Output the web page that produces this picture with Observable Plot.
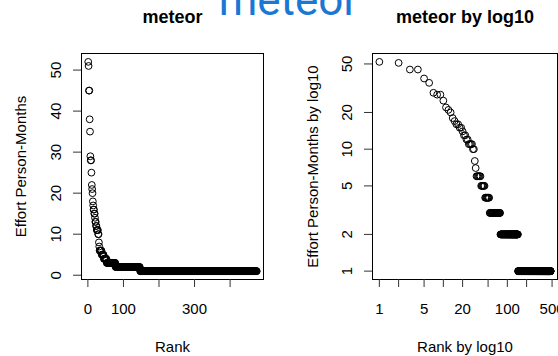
<!DOCTYPE html>
<html><head><meta charset="utf-8">
<script src="https://cdn.jsdelivr.net/npm/d3@7"></script>
<script src="https://cdn.jsdelivr.net/npm/@observablehq/plot@0.6"></script>
<style>
html,body{margin:0;padding:0;background:#fff;}
body{width:558px;height:356px;overflow:hidden;position:relative;font-family:"Liberation Sans",Arial,sans-serif;}
#left,#right{position:absolute;top:0;}
#left{left:0;} #right{left:279px;}
#banner{position:absolute;left:0;top:0;overflow:visible;}
</style></head><body>
<div id="left"></div><div id="right"></div>
<svg id="banner" width="558" height="40"><text x="288.5" y="14.5" text-anchor="middle" font-size="44" fill="#1a78d4" font-family="Roboto, 'Liberation Sans', sans-serif">meteor</text></svg>
<script>
// ---- data ----
const repoName = "meteor";
// top-ranked efforts (person-months), one per rank
const headEfforts = [52,51,45,45,38,35,29,28,28,25,22,21,20,18,17,16,16,15,15,14,13,13,12,12,11,11,11,11,10,10,8,7];
// repeated small efforts: value and how many ranks carry it
const tailEfforts = [6,5,4,3,2,1];
const tailCounts  = [6,6,8,25,69,329];
// axis ticks and labels
const linXTicks = [0,100,200,300,400];
const linXLabels = ["0","100","","300",""];
const linYTicks = [0,10,20,30,40,50];
const logXTicks = [1,2,5,10,20,50,100,200,500];
const logXLabels = ["1","","5","","20","","100","","500"];
const logYTicks = [1,2,5,10,20,50];
const titles = ["meteor","meteor by log10"];
const xLabels = ["Rank","Rank by log10"];
const yLabels = ["Effort Person-Months","Effort Person-Months by log10"];

// ---- build table ----
const efforts = headEfforts.slice();
tailEfforts.forEach((v,i)=>{ for(let k=0;k<tailCounts[i];k++) efforts.push(v); });
const data = efforts.map((e,i)=>({rank:i+1, effort:e}));
const N = data.length;
const maxE = d3.max(efforts);

// R-style 4% padding
const linX = [1-0.04*(N-1), N+0.04*(N-1)];
const linY = [1-0.04*(maxE-1), maxE+0.04*(maxE-1)];
const lx = Math.log10(N), ly = Math.log10(maxE);
const logX = [10**(-0.04*lx), 10**(lx*1.04)];
const logY = [10**(-0.04*ly), 10**(ly*1.04)];

const font = "'Liberation Sans', Arial, sans-serif";
const blank = () => "";

function panel(opts){
  const xTickData = opts.xTicks.map((t,i)=>({t, label: opts.xLabels[i]})).filter(d=>d.label !== "");
  const yTickData = opts.yTicks.map(t=>({t, label: String(t)}));
  return Plot.plot({
    width: 279, height: 356,
    marginLeft: opts.ml, marginRight: opts.mr, marginTop: 53, marginBottom: 77,
    style: {fontFamily: font, fontSize: "15px", color: "#000", background: "transparent", overflow: "visible"},
    x: {type: opts.xType, domain: opts.xDomain},
    y: {type: opts.yType, domain: opts.yDomain},
    marks: [
      Plot.frame({stroke: "#000", strokeWidth: 1}),
      Plot.axisX({ticks: opts.xTicks, tickFormat: blank, tickSize: 8, label: null, stroke: "#333"}),
      Plot.axisY({ticks: opts.yTicks, tickFormat: blank, tickSize: 8, label: null, stroke: "#333"}),
      Plot.text(xTickData, {x: "t", text: "label", frameAnchor: "bottom", textAnchor: "middle", lineAnchor: "top", dy: 24, fontSize: 15, fill: "#000"}),
      Plot.text(yTickData, {y: "t", text: "label", frameAnchor: "left", textAnchor: "middle", lineAnchor: "bottom", rotate: -90, dx: -21, fontSize: 15, fill: "#000"}),
      Plot.dot(data, {x: "rank", y: "effort", r: 3.4, stroke: "#000", strokeWidth: 1, fill: "none"}),
      Plot.text([opts.title], {frameAnchor: "top", textAnchor: "middle", dy: -31, lineAnchor: "bottom", fontWeight: "bold", fontSize: 18, fill: "#000"}),
      Plot.text([opts.xLabel], {frameAnchor: "bottom", textAnchor: "middle", dy: 72, lineAnchor: "bottom", fontSize: 15, fill: "#000"}),
      Plot.text([opts.yLabel], {frameAnchor: "left", textAnchor: "middle", dx: opts.ydx, rotate: -90, lineAnchor: "bottom", fontSize: 15, fill: "#000"})
    ]
  });
}

document.getElementById("left").appendChild(panel({
  ml: 81, mr: 16, xType: "linear", yType: "linear", xDomain: linX, yDomain: linY,
  xTicks: linXTicks, xLabels: linXLabels, yTicks: linYTicks,
  title: titles[0], xLabel: xLabels[0], yLabel: yLabels[0], ydx: -56
}));
document.getElementById("right").appendChild(panel({
  ml: 93, mr: 1, xType: "log", yType: "log", xDomain: logX, yDomain: logY,
  xTicks: logXTicks, xLabels: logXLabels, yTicks: logYTicks,
  title: titles[1], xLabel: xLabels[1], yLabel: yLabels[1], ydx: -55
}));
</script>
</body></html>
